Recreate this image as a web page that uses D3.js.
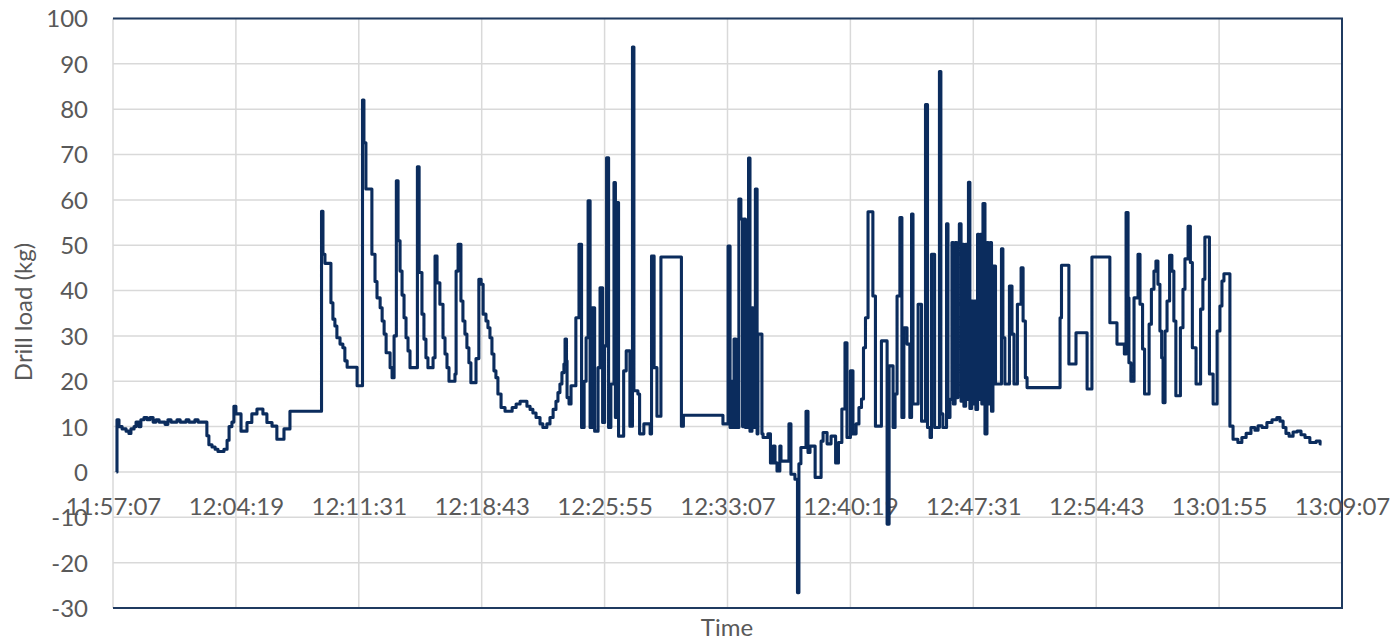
<!DOCTYPE html>
<html><head><meta charset="utf-8">
<script src="https://cdn.jsdelivr.net/npm/d3@7"></script>
<style>body{margin:0;background:#fff;} text{font-family:Lato,"Open Sans",sans-serif;}</style>
</head><body><svg id="c" width="1400" height="644"></svg>
<script>
const xTickLabels = ["11:57:07","12:04:19","12:11:31","12:18:43","12:25:55","12:33:07","12:40:19","12:47:31","12:54:43","13:01:55","13:09:07"];
const xTickSeconds = [0,432,864,1296,1728,2160,2592,3024,3456,3888,4320];
const yTicks = [-30,-20,-10,0,10,20,30,40,50,60,70,80,90,100];
const xTitle = "Time";
const yTitle = "Drill load (kg)";
// [seconds after 11:57:07, drill load kg]
const drillLoad = [[12,0],[14,11.5],[21,10],[32,9.5],[46,9],[56,8.5],[63,9.5],[74,10],[81,11],[91,10],[98,11.5],[109,12],[120,11.5],[130,12],[141,11],[151,11.5],[162,11],[183,10.5],[193,11.5],[204,11],[225,11.5],[236,11],[257,11.5],[267,11],[288,11.5],[299,11],[330,8],[337,6],[348,5.5],[359,5],[369,4.5],[390,5],[401,7],[408,10],[418,11],[425,14.5],[432,12.8],[450,9],[471,10.9],[488,12.8],[506,13.9],[527,12.8],[541,10.9],[559,10.1],[576,7.2],[601,9.5],[622,13.4],
[733,57.5],[738,48],[745,46],[766,37.3],[773,33.7],[780,32.2],[787,29.6],[798,28.2],[808,27.4],[815,24.5],[823,23.1],[858,19],[877,82],[882,72.6],[889,62.4],[910,48],[921,42],[928,38.4],[939,36.2],[946,33.3],[953,30.4],[960,26.3],[974,23],[981,20.8],[988,30],[996,64.2],[1002,51],[1009,44.3],[1016,39],[1023,34],[1030,29.6],[1037,26.7],[1044,23],[1070,67.3],[1076,44],[1086,34.8],[1093,29.3],[1100,25.2],[1107,23],[1125,25.2],[1132,47.6],[1139,41.7],[1149,37],[1160,29.6],[1167,26],[1174,23],[1181,20],[1202,21.6],[1206,44.3],[1213,50.2],[1223,37.7],[1230,33.3],[1237,30.4],[1244,27.4],[1251,24.1],[1258,19.7],[1276,25],[1286,42.5],[1294,41.4],[1301,34.8],[1311,33.3],[1318,31.8],[1325,29.6],[1332,26],[1339,22.3],[1346,20.8],[1353,17.2],[1364,14.2],[1378,13.4],[1403,14.2],[1417,15],[1431,15.6],[1455,14.5],[1466,13.8],[1476,13],[1487,12],[1501,10.6],[1511,9.8],[1525,10.6],[1536,12],[1547,13.8],[1557,15.6],[1564,17.5],[1571,19.4],[1578,21.9],[1585,23.8],[1589,29.3],[1594,24.5],[1596,16.4],[1603,15],[1610,19],[1627,34],[1638,50.2],[1647,9.8],[1656,20],[1663,29.6],[1670,59.8],[1677,9.8],[1684,36.2],[1693,9],[1705,23],[1712,40.6],[1721,10.9],[1728,27.8],[1735,69.3],[1742,9.8],[1750,19.4],[1761,63.8],[1766,12],[1771,59.4],[1777,7.9],[1795,22.3],[1804,26.7],[1817,10.1],[1826,93.7],[1831,17.9],[1845,17.2],[1851,8.4],[1866,10.6],[1888,8.4],[1893,47.6],[1902,23],[1912,12.3],[1926,47.4],[1998,10.1],[2005,12.5],[2144,10.6],[2162,49.8],[2169,9.8],[2172,20],[2179,9.8],[2183,29.3],[2190,9.8],[2200,60.2],[2207,55.8],[2213,10],[2218,55.8],[2223,9.8],[2234,69.2],[2239,9],[2246,36.2],[2250,9.8],[2258,62.4],[2264,8.4],[2267,30.4],[2281,8.4],[2285,7.6],[2302,8.4],[2311,2],[2320,5.7],[2327,2],[2334,0.2],[2344,5.7],[2348,2.4],[2376,10.6],[2383,-0.5],[2397,-1.6],[2406,-26.6],[2411,1.8],[2418,5.4],[2436,13.4],[2443,4.3],[2450,5.7],[2468,-1.2],[2489,6.8],[2496,8.7],[2510,6.2],[2524,7.9],[2540,2],[2550,6.5],[2562,13.9],[2573,28.5],[2580,7.6],[2592,22.3],[2601,8.4],[2612,10.6],[2622,14.2],[2631,16.1],[2638,27.4],[2645,34],[2654,57.4],[2671,38.8],[2680,10.1],[2701,28.9],[2721,-11.5],[2728,23.4],[2742,9.8],[2749,17.2],[2756,38.8],[2766,56.1],[2773,12],[2780,31.8],[2791,28.2],[2801,12],[2807,56.9],[2812,15],[2830,37],[2842,11.2],[2856,81],[2863,9.8],[2872,7.6],[2877,48],[2888,9.8],[2905,88.3],[2910,12.8],[2917,9.8],[2930,54.7],[2935,12],[2942,16],[2949,50.6],[2954,15],[2960,50.6],[2965,16.4],[2970,50.6],[2975,54.7],[2981,15.6],[2986,50.2],[2991,14.5],[2997,50.2],[3002,16],[3007,63.9],[3012,14],[3018,37.7],[3023,15],[3028,37.7],[3033,13.8],[3039,52.4],[3044,16],[3049,52.4],[3054,15],[3058,59.2],[3065,8.4],[3072,50.6],[3077,15],[3083,50.6],[3088,13.4],[3093,45.4],[3102,19.4],[3123,49.2],[3128,29.6],[3135,19.4],[3151,41],[3160,30.4],[3167,19.4],[3179,37],[3192,45],[3199,33.3],[3207,20.8],[3213,18.6],[3329,34],[3334,45.6],[3360,23.8],[3385,30.7],[3424,18.3],[3441,47.4],[3504,32.9],[3529,28.2],[3555,26],[3561,57.2],[3568,38.4],[3571,24.1],[3578,20],[3589,38.4],[3603,48],[3610,37],[3619,27.1],[3626,17.2],[3642,32.6],[3650,40.3],[3659,44.3],[3666,46.5],[3673,41.4],[3680,31.1],[3686,25.2],[3691,15.3],[3698,31.1],[3705,37.7],[3714,47.8],[3722,44.3],[3729,33.3],[3736,16.8],[3752,31.8],[3761,40.3],[3768,47],[3779,54.2],[3787,46.2],[3794,27.4],[3807,19.4],[3823,35.9],[3831,42.5],[3838,51.8],[3854,21.6],[3867,15],[3881,31.1],[3891,36.6],[3898,42.1],[3905,43.7],[3926,10.1],[3937,7.2],[3954,6.5],[3968,7.6],[3983,8.5],[4000,9.8],[4014,9.2],[4025,10.2],[4039,9.8],[4056,10.9],[4074,11.5],[4091,12],[4102,11.2],[4113,9.8],[4123,8.5],[4134,7.9],[4148,8.8],[4162,9],[4176,8.2],[4190,7.6],[4207,6.5],[4229,6.8],[4243,6.2],[4248,6.2]];

const W = 1400, H = 644;
const m = {l:113, r:1342, t:18.5, b:608};
const x = d3.scaleLinear().domain([0,4320]).range([m.l, m.r]);
const y = d3.scaleLinear().domain([-30,100]).range([m.b, m.t]);
const svg = d3.select('#c');
svg.append('rect').attr('width',W).attr('height',H).attr('fill','#fff');

const textColor = '#595959';
const fs = 24;

// gridlines
const grid = svg.append('g');
grid.selectAll('line.h').data(yTicks).join('line').attr('class','h')
  .attr('x1',m.l).attr('x2',m.r).attr('y1',d=>y(d)).attr('y2',d=>y(d))
  .attr('stroke','#d9d9d9').attr('stroke-width',1.5);
grid.selectAll('line.v').data(xTickSeconds).join('line').attr('class','v')
  .attr('x1',d=>x(d)).attr('x2',d=>x(d)).attr('y1',m.t).attr('y2',m.b)
  .attr('stroke','#d9d9d9').attr('stroke-width',1.5);

// border (top, right, bottom)
svg.append('path').attr('d',`M${m.l},${m.t}H${m.r}V${m.b}H${m.l}`)
  .attr('fill','none').attr('stroke','#1f3a60').attr('stroke-width',2);

// y axis labels
const yAxis = svg.append('g').attr('transform',`translate(${m.l},0)`)
  .call(d3.axisLeft(y).tickValues(yTicks).tickSize(0).tickPadding(25).tickFormat(d=>String(d)));
yAxis.select('.domain').remove();
yAxis.selectAll('text').attr('fill',textColor).style('font-size',fs+'px').attr('dy','0.35em');

// x axis labels at y=0
const xAxis = svg.append('g').attr('transform',`translate(0,${y(0)})`)
  .call(d3.axisBottom(x).tickValues(xTickSeconds).tickSize(0).tickPadding(26).tickFormat((d,i)=>xTickLabels[i]));
xAxis.select('.domain').remove();
xAxis.selectAll('text').attr('fill',textColor).style('font-size',fs+'px');

// line
const line = d3.line().x(d=>x(d[0])).y(d=>y(d[1])).curve(d3.curveStepAfter);
svg.append('path').datum(drillLoad).attr('d',line)
  .attr('fill','none').attr('stroke','#0b2c5d').attr('stroke-width',3.1).attr('stroke-linejoin','round');

// titles
svg.append('text').attr('x',727).attr('y',626).attr('text-anchor','middle').attr('dominant-baseline','central')
  .attr('fill',textColor).style('font-size',fs+'px').text(xTitle);
svg.append('text').attr('transform','translate(22,312) rotate(-90)').attr('text-anchor','middle').attr('dominant-baseline','central')
  .attr('fill',textColor).style('font-size',fs+'px').text(yTitle);
</script></body></html>
